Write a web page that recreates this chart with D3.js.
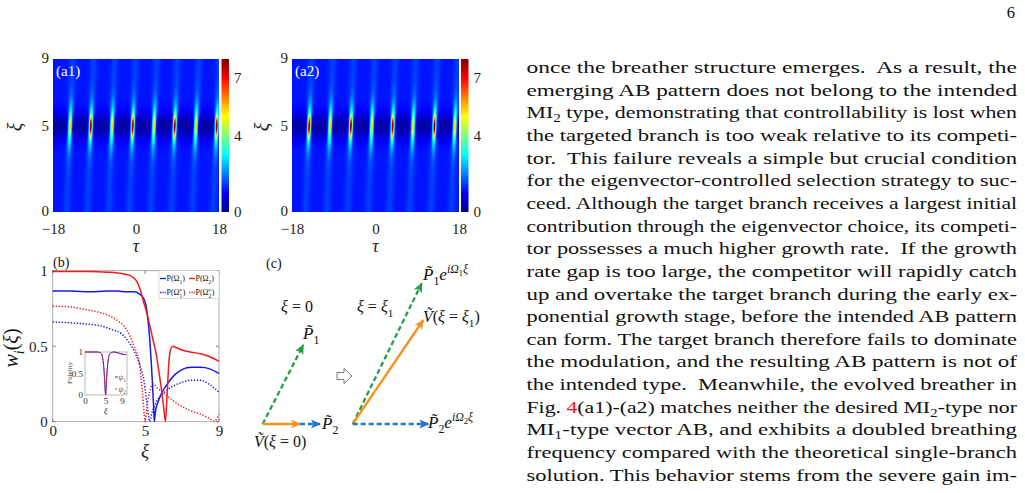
<!DOCTYPE html>
<html>
<head>
<meta charset="utf-8">
<script src="https://cdn.jsdelivr.net/npm/d3@7"></script>
<style>
body { margin: 0; background: #fff; }
svg { display: block; }
</style>
</head>
<body>
<div id="page"></div>
<script>
// ---- data ----
const tauTicks = [-18, 0, 18];
const xiTicks = [0, 5, 9];
const cbTicks = [0, 4, 7];

// breather peaks (tau position, max |psi|^2) at xi ~ 5
const a1PeakTau = [-14.3, -9.8, -5.2, -0.7, 3.9, 8.4, 13.0, 17.5];
const a1PeakAmp = [4.8, 7.6, 4.8, 7.6, 4.8, 7.6, 4.8, 7.6];
const a2PeakTau = [-14.3, -9.8, -5.3, -0.8, 3.7, 8.1, 12.7, 17.1];
const a2PeakAmp = [7.6, 4.8, 7.6, 4.8, 7.6, 4.8, 7.6, 4.8];

// panel (b): weights w_i(xi)
const pOmega1 = [[0,0.865],[1,0.865],[2,0.86],[3,0.865],[3.5,0.865],[4,0.86],[4.4,0.86],[4.7,0.845],[4.9,0.82],[5.05,0.77],[5.15,0.68],[5.25,0.55],[5.33,0.4],[5.4,0.25],[5.46,0.1],[5.5,0.0],[5.55,0.06],[5.7,0.13],[5.9,0.19],[6.2,0.25],[6.6,0.31],[7,0.345],[7.5,0.36],[8,0.36],[8.5,0.35],[9,0.32]];
const pOmega2 = [[0,0.995],[1,0.995],[2,0.995],[3,0.99],[3.5,0.985],[4,0.975],[4.3,0.96],[4.55,0.93],[4.75,0.87],[4.9,0.8],[5.05,0.74],[5.25,0.64],[5.45,0.53],[5.6,0.45],[5.75,0.33],[5.9,0.2],[6.02,0.08],[6.1,0],[6.18,0.15],[6.28,0.38],[6.38,0.48],[6.5,0.5],[6.7,0.49],[7,0.475],[7.5,0.46],[8,0.45],[8.5,0.43],[9,0.4]];
const pOmega1Star = [[0,0.66],[1,0.655],[2,0.645],[2.6,0.635],[3.2,0.61],[3.7,0.585],[4.1,0.53],[4.4,0.47],[4.7,0.38],[4.95,0.26],[5.1,0.12],[5.2,0.03],[5.25,0],[5.35,0.05],[5.6,0.13],[6,0.19],[6.5,0.235],[7,0.26],[7.5,0.275],[8,0.275],[8.5,0.245],[9,0.195]];
const pOmega2Star = [[0,0.765],[1,0.76],[1.7,0.745],[2.5,0.725],[3,0.705],[3.5,0.67],[4,0.61],[4.4,0.5],[4.7,0.38],[4.85,0.2],[4.95,0.05],[5.0,0],[5.1,0.1],[5.3,0.22],[5.45,0.25],[5.6,0.23],[5.9,0.2],[6.3,0.16],[7,0.1],[7.5,0.07],[8,0.05],[8.5,0.02],[8.75,0.005],[9,0.05]];

// inset: fidelity
const fidXi = [0, 1, 2, 3, 3.5, 4, 4.3, 4.6, 4.8, 5, 5.2, 5.4, 5.7, 6, 6.5, 7, 8, 9, 10];
const fidPsi1 = [1, 1, 1, 1, 0.99, 0.96, 0.85, 0.6, 0.3, 0, 0.3, 0.6, 0.85, 0.96, 0.99, 1, 0.98, 0.95, 0.94];
const fidPsi2 = [1, 1, 1, 1, 0.99, 0.96, 0.85, 0.6, 0.3, 0, 0.3, 0.6, 0.85, 0.96, 0.99, 1, 0.98, 0.95, 0.94];

// panel (c): phasors in diagram units
const arrowFrom = [[0,0],[0,0],[3.73,0],[9,0],[9,0],[9,0]];
const arrowTo = [[4.06,7.9],[3.73,0],[5.73,0],[15.9,14.07],[16.06,10.4],[16.56,0]];
const arrowKind = ["p1", "v", "p2", "p1", "v", "p2"];

const textLines = [
  "once the breather structure emerges.  As a result, the",
  "emerging AB pattern does not belong to the intended",
  "MI_2 type, demonstrating that controllability is lost when",
  "the targeted branch is too weak relative to its competi-",
  "tor.  This failure reveals a simple but crucial condition",
  "for the eigenvector-controlled selection strategy to suc-",
  "ceed. Although the target branch receives a largest initial",
  "contribution through the eigenvector choice, its competi-",
  "tor possesses a much higher growth rate.  If the growth",
  "rate gap is too large, the competitor will rapidly catch",
  "up and overtake the target branch during the early ex-",
  "ponential growth stage, before the intended AB pattern",
  "can form. The target branch therefore fails to dominate",
  "the modulation, and the resulting AB pattern is not of",
  "the intended type.  Meanwhile, the evolved breather in",
  "Fig. {4}(a1)-(a2) matches neither the desired MI_2-type nor",
  "MI_1-type vector AB, and exhibits a doubled breathing",
  "frequency compared with the theoretical single-branch",
  "solution. This behavior stems from the severe gain im-"
];

// ---- setup ----
const serif = "'Liberation Serif', 'Times New Roman', serif";
const svg = d3.select("#page")
    .append("svg")
    .attr("width", 1025)
    .attr("height", 493);

svg.append("rect").attr("width", 1025).attr("height", 493).attr("fill", "#fff");

const jetColors = ["#00007f", "#0000ff", "#007fff", "#00ffff", "#7fff7f", "#ffff00", "#ff7f00", "#ff0000", "#7f0000"];
const jet = d3.scaleLinear().domain(d3.range(9)).range(jetColors).clamp(true);

// rich text helper: parts = [text, baseline offset (em), size ratio, italic, colour, dx]
function rich(g, x, y, parts, size, anchor) {
    const t = g.append("text")
        .attr("x", x).attr("y", y)
        .attr("font-family", serif)
        .attr("font-size", size)
        .attr("text-anchor", anchor || "start")
        .attr("fill", "#111");
    let shift = 0;
    parts.forEach(p => {
        const off = (p[1] || 0) * size;
        const ts = t.append("tspan").text(p[0]).attr("dy", off - shift);
        shift = off;
        if (p[2]) ts.attr("font-size", size * p[2]);
        if (p[3]) ts.attr("font-style", "italic");
        if (p[4]) ts.attr("fill", p[4]);
        if (p[5]) ts.attr("dx", p[5]);
    });
    return t;
}

// ---- heatmaps (a1), (a2) ----
function field(tau, xi, peakTau, peakAmp) {
    const dxi = xi - 5.05;
    let v = 1.15 - 0.85 * Math.exp(-dxi * dxi / 0.6);
    peakTau.forEach((t0, k) => {
        const dt = tau - (t0 + 0.15 * dxi);
        const a = peakAmp[k];
        v += 0.35 * Math.exp(-dt * dt / 0.6);
        v += (a - 2.3) * Math.exp(-dt * dt / (2 * 0.22 * 0.22) - dxi * dxi / (2 * 0.42 * 0.42));
        v += 2.5 * Math.exp(-dt * dt / (2 * 0.33 * 0.33) - dxi * dxi / (2 * 0.95 * 0.95));
    });
    return v;
}

function heatmap(left, right, peakTau, peakAmp, label, yLabelX, cbLeft) {
    const top = 59, bottom = 212;
    const g = svg.append("g");
    const x = d3.scaleLinear().domain([-18, 18]).range([left, right]);
    const y = d3.scaleLinear().domain([0, 9]).range([bottom, top]);
    const ss = 2;
    const w = Math.round(right - left) * ss, h = (bottom - top) * ss;

    const canvas = document.createElement("canvas");
    canvas.width = w;
    canvas.height = h;
    const ctx = canvas.getContext("2d");
    const img = ctx.createImageData(w, h);
    for (let j = 0; j < h; j++) {
        for (let i = 0; i < w; i++) {
            const v = field(x.invert(left + (i + 0.5) / ss), y.invert(top + (j + 0.5) / ss), peakTau, peakAmp);
            const c = d3.rgb(jet(v));
            const o = 4 * (j * w + i);
            img.data[o] = c.r; img.data[o + 1] = c.g; img.data[o + 2] = c.b; img.data[o + 3] = 255;
        }
    }
    ctx.putImageData(img, 0, 0);
    g.append("image")
        .attr("x", left).attr("y", top)
        .attr("width", w / ss).attr("height", h / ss)
        .attr("preserveAspectRatio", "none")
        .attr("href", canvas.toDataURL());

    // axes
    const xAxis = g.append("g").attr("transform", `translate(0,${bottom})`)
        .call(d3.axisBottom(x).tickValues(tauTicks).tickSize(0).tickPadding(11));
    const yAxis = g.append("g").attr("transform", `translate(${left},0)`)
        .call(d3.axisLeft(y).tickValues(xiTicks).tickSize(0).tickPadding(4));
    [xAxis, yAxis].forEach(a => {
        a.select(".domain").remove();
        a.selectAll("text").attr("font-family", serif).attr("font-size", 15).attr("fill", "#222");
    });
    yAxis.selectAll("text").attr("dy", "0.25em");
    g.append("text").attr("x", (left + right) / 2).attr("y", 252)
        .attr("text-anchor", "middle").attr("font-family", serif)
        .attr("font-style", "italic").attr("font-size", 18).attr("fill", "#222").text("τ");
    g.append("text").attr("transform", `translate(${yLabelX},${y(5)}) rotate(-90)`)
        .attr("text-anchor", "middle").attr("dy", "0.35em").attr("font-family", serif)
        .attr("font-style", "italic").attr("font-size", 20).attr("fill", "#222").text("ξ");
    g.append("text").attr("x", left + 3).attr("y", 76)
        .attr("font-family", serif).attr("font-size", 15).attr("fill", "#fff").text(label);

    // colour bar
    const cb = d3.scaleLinear().domain([0, 8]).range([bottom, top]);
    const gradId = "jet" + label.replace(/\W/g, "");
    const grad = svg.append("defs").append("linearGradient").attr("id", gradId)
        .attr("x1", 0).attr("y1", 1).attr("x2", 0).attr("y2", 0);
    jetColors.forEach((c, i) => grad.append("stop").attr("offset", i / 8).attr("stop-color", c));
    g.append("rect").attr("x", cbLeft).attr("y", top).attr("width", 7.5).attr("height", h / ss)
        .attr("fill", `url(#${gradId})`);
    const cAxis = g.append("g").attr("transform", `translate(${cbLeft + 7.5},0)`)
        .call(d3.axisRight(cb).tickValues(cbTicks).tickSize(0).tickPadding(5));
    cAxis.select(".domain").remove();
    cAxis.selectAll("text").attr("font-family", serif).attr("font-size", 15).attr("fill", "#222");
}

heatmap(53, 219, a1PeakTau, a1PeakAmp, "(a1)", 15, 221.5);
heatmap(292, 459, a2PeakTau, a2PeakAmp, "(a2)", 262, 461);

// ---- panel (b) ----
const gb = svg.append("g");
const xb = d3.scaleLinear().domain([0, 9]).range([52.7, 219]);
const yb = d3.scaleLinear().domain([0, 1]).range([421.7, 270.7]);
gb.append("rect").attr("x", xb(0)).attr("y", yb(1)).attr("width", xb(9) - xb(0)).attr("height", yb(0) - yb(1))
    .attr("fill", "#fff").attr("stroke", "#9a9a9a").attr("stroke-width", 0.8);
[0, 0.5, 1].forEach(v => {
    gb.append("line").attr("x1", xb(0)).attr("x2", xb(0) + 3).attr("y1", yb(v)).attr("y2", yb(v)).attr("stroke", "#777");
    gb.append("line").attr("x1", xb(9)).attr("x2", xb(9) - 3).attr("y1", yb(v)).attr("y2", yb(v)).attr("stroke", "#777");
});
xiTicks.forEach(v => {
    gb.append("line").attr("x1", xb(v)).attr("x2", xb(v)).attr("y1", yb(0)).attr("y2", yb(0) - 3).attr("stroke", "#777");
    gb.append("line").attr("x1", xb(v)).attr("x2", xb(v)).attr("y1", yb(1)).attr("y2", yb(1) + 3).attr("stroke", "#777");
});
const bxAxis = gb.append("g").attr("transform", `translate(0,${yb(0)})`)
    .call(d3.axisBottom(xb).tickValues(xiTicks).tickSize(0).tickPadding(4));
const byAxis = gb.append("g").attr("transform", `translate(${xb(0)},0)`)
    .call(d3.axisLeft(yb).tickValues([0, 0.5, 1]).tickFormat(d => d).tickSize(0).tickPadding(5));
[bxAxis, byAxis].forEach(a => {
    a.select(".domain").remove();
    a.selectAll("text").attr("font-family", serif).attr("font-size", 15).attr("fill", "#222");
});
gb.append("text").attr("x", xb(5)).attr("y", 457).attr("text-anchor", "middle")
    .attr("font-family", serif).attr("font-style", "italic").attr("font-size", 19).attr("fill", "#222").text("ξ");
const wl = rich(gb, 0, 0, [["w", 0, 0, true], ["i", 0.3, 0.7, true], ["(", 0], ["ξ", 0, 0, true], [")", 0]], 20, "middle");
wl.attr("transform", "translate(18,348) rotate(-90)");
gb.append("text").attr("x", 53).attr("y", 267).attr("font-family", serif).attr("font-size", 14).attr("fill", "#111").text("(b)");

const lineB = d3.line().x(d => xb(d[0])).y(d => yb(d[1])).curve(d3.curveMonotoneX);
const blue = "#1a1ae6", red = "#ee1c1c";
const seriesB = [
    [pOmega1Star, blue, "1.3,1.7"],
    [pOmega2Star, red, "1.3,1.7"],
    [pOmega1, blue, null],
    [pOmega2, red, null]
];
seriesB.forEach(s => {
    gb.append("path").datum(s[0]).attr("d", lineB)
        .attr("fill", "none").attr("stroke", s[1]).attr("stroke-width", 1.5)
        .attr("stroke-dasharray", s[2]);
});

// legend
gb.append("rect").attr("x", 159).attr("y", 270.7).attr("width", 60).attr("height", 28)
    .attr("fill", "#fff").attr("stroke", "#c8c8c8").attr("stroke-width", 0.7);
const legRows = [278.5, 292.5], legCols = [160, 189];
const legSeries = [[blue, null, "1", false], [red, null, "2", false], [blue, "1.3,1.2", "1", true], [red, "1.3,1.2", "2", true]];
legSeries.forEach((s, i) => {
    const lx = legCols[i % 2], ly = legRows[Math.floor(i / 2)];
    gb.append("line").attr("x1", lx).attr("x2", lx + 6).attr("y1", ly).attr("y2", ly)
        .attr("stroke", s[0]).attr("stroke-width", 1.3).attr("stroke-dasharray", s[1]);
    const parts = [["P(Ω", 0], [s[2], 0.3, 0.7]];
    if (s[3]) parts.push(["*", -0.35, 0.7, false, null, -3]);
    parts.push([")", 0, 0, false, null, s[3] ? 0.5 : 0]);
    rich(gb, lx + 6.5, ly + 2.8, parts, 8, "start");
});

// inset
const xi = d3.scaleLinear().domain([0, 10.2]).range([85, 127]);
const yi = d3.scaleLinear().domain([0, 1]).range([395, 352]);
gb.append("rect").attr("x", 85).attr("y", 352).attr("width", 42).attr("height", 43)
    .attr("fill", "#fff").attr("stroke", "#8a8a8a").attr("stroke-width", 0.6);
const ixAxis = gb.append("g").attr("transform", "translate(0,395)")
    .call(d3.axisBottom(xi).tickValues(xiTicks).tickSize(0).tickPadding(3));
const iyAxis = gb.append("g").attr("transform", "translate(85,0)")
    .call(d3.axisLeft(yi).tickValues([0, 0.5, 1]).tickFormat(d => d).tickSize(0).tickPadding(2));
[ixAxis, iyAxis].forEach(a => {
    a.select(".domain").remove();
    a.selectAll("text").attr("font-family", serif).attr("font-size", 9).attr("fill", "#333");
});
gb.append("text").attr("transform", "translate(72,373) rotate(-90)").attr("text-anchor", "middle")
    .attr("font-family", serif).attr("font-size", 7).attr("fill", "#333").text("Fidelity");
gb.append("text").attr("x", xi(5)).attr("y", 414).attr("text-anchor", "middle")
    .attr("font-family", serif).attr("font-style", "italic").attr("font-size", 9).attr("fill", "#333").text("ξ");
const lineI = d3.line().curve(d3.curveMonotoneX);
gb.append("path").attr("d", lineI(fidXi.map((v, i) => [xi(v), yi(fidPsi1[i])])))
    .attr("fill", "none").attr("stroke", blue).attr("stroke-width", 1);
gb.append("path").attr("d", lineI(fidXi.map((v, i) => [xi(v), yi(fidPsi2[i])])))
    .attr("fill", "none").attr("stroke", red).attr("stroke-width", 1).attr("stroke-dasharray", "2,1.5");
[[blue, null, "1", 377], [red, "2,1", "2", 389]].forEach(s => {
    gb.append("line").attr("x1", 115).attr("x2", 118).attr("y1", s[3]).attr("y2", s[3])
        .attr("stroke", s[0]).attr("stroke-width", 0.9).attr("stroke-dasharray", s[1]);
    rich(gb, 118.5, s[3] + 2.5, [["ψ", 0, 0, true], [s[2], 0.3, 0.7]], 7.5, "start").attr("fill", "#555");
});

// ---- panel (c) ----
const gc = svg.append("g");
const dx = d3.scaleLinear().domain([0, 1]).range([262.7, 272.7]);
const dy = d3.scaleLinear().domain([0, 1]).range([424, 414]);
const arrowColor = { p1: "#22a045", v: "#f7921e", p2: "#1f76c6" };
const defs = svg.append("defs");
Object.keys(arrowColor).forEach(k => {
    defs.append("marker").attr("id", "head-" + k)
        .attr("viewBox", "0 0 10 10").attr("refX", 9).attr("refY", 5)
        .attr("markerUnits", "userSpaceOnUse").attr("markerWidth", 10).attr("markerHeight", 10)
        .attr("orient", "auto")
        .append("path").attr("d", "M0,0.5 L10,5 L0,9.5 L2.5,5 Z").attr("fill", arrowColor[k]);
});
arrowFrom.forEach((f, i) => {
    const k = arrowKind[i];
    gc.append("line")
        .attr("x1", dx(f[0])).attr("y1", dy(f[1]))
        .attr("x2", dx(arrowTo[i][0])).attr("y2", dy(arrowTo[i][1]))
        .attr("stroke", arrowColor[k]).attr("stroke-width", 2.3)
        .attr("stroke-dasharray", k === "v" ? null : "5,3")
        .attr("marker-end", `url(#head-${k})`);
});
// hollow "then" arrow
gc.append("path").attr("d", "M337,372.5 H344 V368.5 L352,376 L344,383.5 V379.5 H337 Z")
    .attr("fill", "#fff").attr("stroke", "#555").attr("stroke-width", 0.8);

const PT = "P\u0303", VT = "V\u0303";
gc.append("text").attr("x", 266).attr("y", 268).attr("font-family", serif).attr("font-size", 14).attr("fill", "#111").text("(c)");
rich(gc, 297, 312, [["ξ", 0, 0, true], [" = 0", 0]], 16, "middle");
rich(gc, 303, 339, [[PT, 0, 0, true], ["1", 0.3, 0.7]], 17, "start");
rich(gc, 322, 429, [[PT, 0, 0, true], ["2", 0.3, 0.7]], 17, "start");
rich(gc, 254, 447, [[VT, 0, 0, true], ["(", 0], ["ξ", 0, 0, true], [" = 0)", 0]], 16, "start");
rich(gc, 357, 312, [["ξ", 0, 0, true], [" = ", 0], ["ξ", 0, 0, true], ["1", 0.3, 0.7]], 16, "start");
rich(gc, 423, 280, [[PT, 0, 0, true], ["1", 0.3, 0.7], ["e", 0, 0, true], ["i", -0.4, 0.7, true], ["Ω", -0.4, 0.7, true], ["1", -0.25, 0.5], ["ξ", -0.4, 0.7, true]], 17, "start");
rich(gc, 423, 322, [[VT, 0, 0, true], ["(", 0], ["ξ", 0, 0, true], [" = ", 0], ["ξ", 0, 0, true], ["1", 0.3, 0.7], [")", 0]], 16, "start");
rich(gc, 428, 428, [[PT, 0, 0, true], ["2", 0.3, 0.7], ["e", 0, 0, true], ["i", -0.4, 0.7, true], ["Ω", -0.4, 0.7, true], ["2", -0.25, 0.5], ["ξ", -0.4, 0.7, true]], 17, "start");

// ---- body text column ----
const textLeft = 526.5, textRight = 1017, lineStep = 22.65, firstBase = 73;
const gt = svg.append("g");
textLines.forEach((ln, i) => {
    const t = gt.append("text")
        .attr("x", textLeft).attr("y", firstBase + i * lineStep)
        .attr("font-family", serif).attr("font-size", 16.5).attr("fill", "#111")
        .style("white-space", "pre")
        .attr("textLength", textRight - textLeft)
        .attr("lengthAdjust", "spacingAndGlyphs");
    const tokens = ln.split(/(_\d|\{[^}]*\})/).filter(s => s.length);
    let shifted = false;
    tokens.forEach(tok => {
        if (tok[0] === "_") {
            t.append("tspan").text(tok[1]).attr("font-size", 11.5).attr("dy", 4);
            shifted = true;
        } else {
            const ts = t.append("tspan").attr("dy", shifted ? -4 : 0);
            shifted = false;
            if (tok[0] === "{") ts.text(tok.slice(1, -1)).attr("fill", "#e8141a");
            else ts.text(tok);
        }
    });
});
svg.append("text").attr("x", 1015).attr("y", 18).attr("text-anchor", "end")
    .attr("font-family", serif).attr("font-size", 16.5).attr("fill", "#111").text("6");
</script>
</body>
</html>
